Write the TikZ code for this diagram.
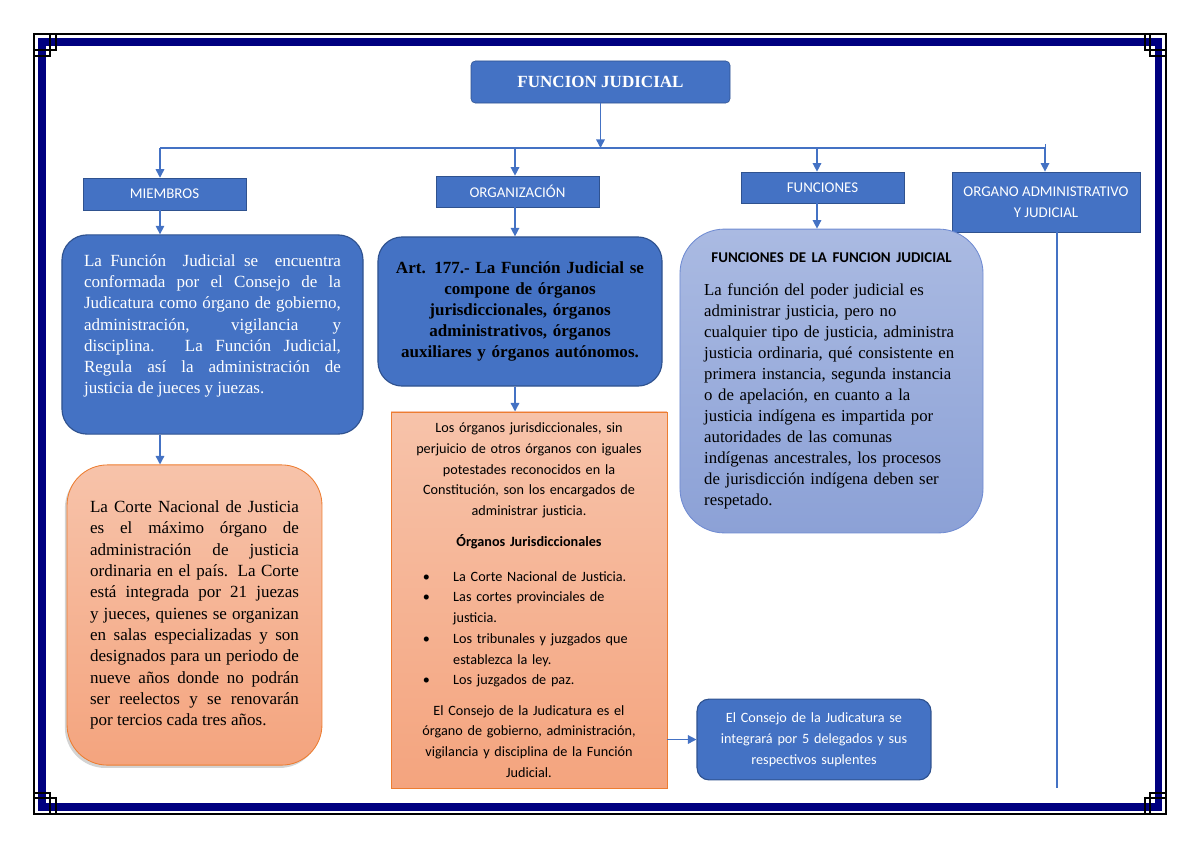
\documentclass[tikz,border=0pt]{standalone}
\usepackage{fontspec}
\setmainfont{Liberation Serif}
\newfontfamily\calibrifont{Carlito}
\usetikzlibrary{arrows.meta,shadows}
\definecolor{jblue}{HTML}{4472C4}
\definecolor{jedge}{HTML}{2F528F}
\definecolor{jnavy}{HTML}{000080}
\definecolor{jorange}{HTML}{ED7D31}
\definecolor{lavtop}{HTML}{AABAE2}
\definecolor{lavbot}{HTML}{8CA1D6}
\definecolor{lavedge}{HTML}{6F8BD2}
\definecolor{saltop}{HTML}{F7C3AA}
\definecolor{salbot}{HTML}{F4A47E}
\tikzset{
  head/.style={rectangle, draw=jedge, fill=jblue, text=white, align=center,
    font=\calibrifont\fontsize{10.5}{15}\selectfont, inner sep=2pt},
  bluebox/.style={draw=jedge, fill=jblue, line width=0.8pt},
  salmon/.style={draw=jorange, top color=saltop, bottom color=salbot, line width=0.6pt},
  link/.style={jblue, line width=1pt, -{Triangle[length=6pt,width=6pt]}},
  corner/.style={black, line width=0.8pt},
}

\begin{document}
\begin{tikzpicture}[x=0.02475cm, y=-0.02475cm]
  \useasboundingbox (0,0) rectangle (1200,849);
  % marco de la pagina
  \draw[jnavy, line width=5.6pt] (42,42) rectangle (1158.5,807);
  \draw[corner] (56,34) -- (1145,34) (56,814) -- (1145,814)
    (34,56) -- (34,793) (1166,56) -- (1166,793);
  \draw[corner] (34,34) rectangle (50,50) (50,34) rectangle (56,50) (34,50) rectangle (50,56);
  \draw[corner] (1150,34) rectangle (1166,50) (1145,34) rectangle (1150,50) (1150,50) rectangle (1166,56);
  \draw[corner] (34,798) rectangle (50,814) (34,793) rectangle (50,798) (50,798) rectangle (56,814);
  \draw[corner] (1150,798) rectangle (1166,814) (1145,798) rectangle (1150,814) (1150,793) rectangle (1166,798);

  % cabecera
  \node[head, rounded corners=3pt, minimum width=6.41cm, minimum height=1.04cm,
    font=\bfseries\fontsize{12}{14}\selectfont] (title) at (600.5,82) {FUNCION JUDICIAL};
  \coordinate (cM) at (160,148);
  \coordinate (cO) at (515,148);
  \coordinate (cF) at (817,148);
  \coordinate (cA) at (1045,148);
  \draw[jblue, line width=1pt] (cM) -- (cA);
  \draw[jblue, line width=0.6pt] (cA) -- +(0,-4);
  \draw[link] (title.south) -- (title.south |- cM);

  \node[head, minimum width=4.03cm, minimum height=0.79cm] (miembros) at (164.5,194) {MIEMBROS};
  \node[head, minimum width=4.03cm, minimum height=0.77cm] (organiz) at (517.5,191.5) {ORGANIZACIÓN};
  \node[head, minimum width=4.03cm, minimum height=0.77cm] (funciones) at (822.5,187.5) {FUNCIONES};
  \node[head, minimum width=4.65cm, minimum height=1.49cm] (organo) at (1046,202)
    {ORGANO ADMINISTRATIVO\\Y JUDICIAL};
  \draw[link] (cM) -- (cM |- miembros.north);
  \draw[link] (cO) -- (cO |- organiz.north);
  \draw[link] (cF) -- (cF |- funciones.north);
  \draw[link] (cA) -- (cA |- organo.north);

  % columna miembros
  \node[bluebox, rounded corners=0.62cm, minimum width=7.45cm, minimum height=4.93cm,
    text width=6.36cm, align=justify, text=white, font=\fontsize{12}{15}\selectfont]
    (miemtext) at (212.5,334.5)
    {La Función \ Judicial se \ encuentra\linebreak
     conformada por el Consejo de la\linebreak
     Judicatura como órgano de gobierno,\linebreak
     administración, vigilancia y\linebreak
     disciplina. La Función Judicial,\linebreak
     Regula así la administración de\linebreak
     justicia de jueces y juezas.\par\vspace*{12pt}};
  \node[salmon, drop shadow={shadow xshift=-1.5pt, shadow yshift=-2pt, opacity=.35},
    rounded corners=1cm, minimum width=6.31cm, minimum height=7.43cm,
    text width=5.17cm, align=justify, font=\fontsize{12}{15}\selectfont]
    (corte) at (194.5,615)
    {La Corte Nacional de Justicia\linebreak
     es el máximo órgano de\linebreak
     administración de justicia\linebreak
     ordinaria en el país. La Corte\linebreak
     está integrada por 21 juezas\linebreak
     y jueces, quienes se organizan\linebreak
     en salas especializadas y son\linebreak
     designados para un periodo de\linebreak
     nueve años donde no podrán\linebreak
     ser reelectos y se renovarán\linebreak
     por tercios cada tres años.\par\vspace*{6pt}};
  \draw[link] (cM |- miembros.south) -- (cM |- miemtext.north);
  \draw[link] (cM |- miemtext.south) -- (cM |- corte.north);

  % columna organizacion
  \node[bluebox, rounded corners=0.6cm, minimum width=7.03cm, minimum height=3.69cm,
    text width=6.6cm, align=center, font=\bfseries\fontsize{12}{14.8}\selectfont]
    (art) at (520,311.5)
    {Art. 177.- La Función Judicial se\\
     compone de órganos\\
     jurisdiccionales, órganos\\
     administrativos, órganos\\
     auxiliares y órganos autónomos.\par\vspace*{10pt}};
  \node[salmon, minimum width=6.83cm, minimum height=9.31cm, text width=6.5cm,
    align=center, font=\calibrifont\fontsize{10}{14.6}\selectfont]
    (organos) at (529,600)
    {Los órganos jurisdiccionales, sin\\
     perjuicio de otros órganos con iguales\\
     potestades reconocidos en la\\
     Constitución, son los encargados de\\
     administrar justicia.\\[7pt]
     \textbf{Órganos Jurisdiccionales}\\[10pt]
     \begin{tabular}[t]{@{}p{0.75cm}@{}p{4.5cm}@{}}
       \textbullet & La Corte Nacional de Justicia.\\
       \textbullet & Las cortes provinciales de\newline justicia.\\
       \textbullet & Los tribunales y juzgados que\newline establezca la ley.\\
       \textbullet & Los juzgados de paz.
     \end{tabular}\\[9pt]
     El Consejo de la Judicatura es el\\
     órgano de gobierno, administración,\\
     vigilancia y disciplina de la Función\\
     Judicial.};
  \node[bluebox, rounded corners=0.3cm, minimum width=5.79cm, minimum height=2cm,
    text width=5.5cm, align=center, text=white, font=\calibrifont\fontsize{10}{14.7}\selectfont]
    (consejo) at (814,739.5)
    {El Consejo de la Judicatura se\\
     integrará por 5 delegados y sus\\
     respectivos suplentes};
  \draw[link] (cO |- organiz.south) -- (cO |- art.north);
  \draw[link] (cO |- art.south) -- (cO |- organos.north);
  \draw[link] (organos.east |- consejo.west) -- (consejo.west);

  % columna funciones
  \node[draw=lavedge, top color=lavtop, bottom color=lavbot, line width=0.6pt,
    rounded corners=1.1cm, minimum width=7.5cm, minimum height=7.52cm,
    text width=6.3cm, align=left, font=\fontsize{11.8}{14.8}\selectfont]
    (funtext) at (831.5,381)
    {\makebox[6.3cm]{\calibrifont\bfseries\fontsize{10.5}{12}\selectfont FUNCIONES DE LA FUNCION JUDICIAL}\\[8.5pt]
     La función del poder judicial es\\
     administrar justicia, pero no\\
     cualquier tipo de justicia, administra\\
     justicia ordinaria, qué consistente en\\
     primera instancia, segunda instancia\\
     o de apelación, en cuanto a la\\
     justicia indígena es impartida por\\
     autoridades de las comunas\\
     indígenas ancestrales, los procesos\\
     de jurisdicción indígena deben ser\\
     respetado.};
  \draw[link] (cF |- funciones.south) -- (cF |- funtext.north);

  % columna organo
  \coordinate (oend) at (1057,788);
  \draw[jblue, line width=1pt] (organo.south -| oend) -- (oend);
\end{tikzpicture}
\end{document}
